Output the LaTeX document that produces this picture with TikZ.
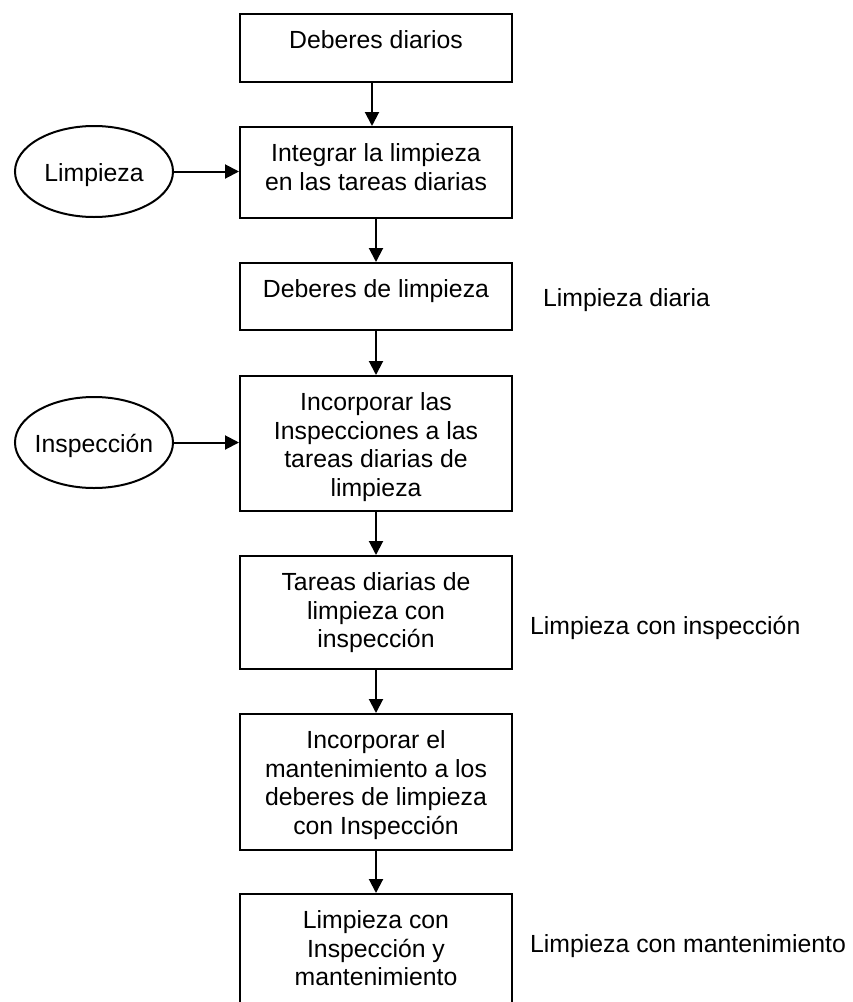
\documentclass[tikz,border=0pt]{standalone}
\usepackage{fontspec}
\setmainfont{Liberation Sans}
\usetikzlibrary{shapes.geometric,arrows.meta}

% Box text: fixed-height parbox with the first baseline a set distance below the top
\newcommand\boxtext[2]{\parbox[t][#1][t]{272pt}{\centering\rule{0pt}{34.5pt}#2}}
% Ellipse label that neither widens its ellipse nor sits off centre
\newcommand\ovaltext[1]{\makebox[0pt]{\raisebox{0pt}[20pt][0pt]{#1}}}

\tikzset{
  basefont/.style={font=\fontsize{24.8pt}{28.6pt}\selectfont},
  stepbox/.style={draw, line width=2pt, inner sep=0pt, anchor=north, basefont},
  oval/.style={draw, ellipse, line width=2pt, minimum width=158pt,
               minimum height=91pt, inner sep=0pt, basefont},
  flow/.style={line width=2pt, -{Triangle[length=14pt,width=14pt]}},
  sidenote/.style={anchor=base west, inner sep=0pt, basefont},
}

\begin{document}
\begin{tikzpicture}[x=1pt, y=-1pt]
  \useasboundingbox (0,0) rectangle (853,1002);
  \clip (0,0) rectangle (853,1002);

  % main column of steps
  \node[stepbox] (b1) at (376,13)  {\boxtext{68pt}{Deberes diarios}};
  \node[stepbox] (b2) at (376,126) {\boxtext{91pt}{Integrar la limpieza\\en las tareas diarias}};
  \node[stepbox] (b3) at (376,262) {\boxtext{67pt}{Deberes de limpieza}};
  \node[stepbox] (b4) at (376,375) {\boxtext{135pt}{Incorporar las\\Inspecciones a las\\tareas diarias de\\limpieza}};
  \node[stepbox] (b5) at (376,555) {\boxtext{113pt}{Tareas diarias de\\limpieza con\\inspección}};
  \node[stepbox] (b6) at (376,713) {\boxtext{136pt}{Incorporar el\\mantenimiento a los\\deberes de limpieza\\con Inspección}};
  \node[stepbox] (b7) at (376,893) {\boxtext{140pt}{Limpieza con\\Inspección y\\mantenimiento}};

  % inputs
  \node[oval] (l1) at (94,171.5) {\ovaltext{Limpieza}};
  \node[oval] (l2) at (94,442.5) {\ovaltext{Inspección}};

  % stage labels
  \node[sidenote] (n1) at (543,306) {Limpieza diaria};
  \node[sidenote] (n2) at (530,634) {Limpieza con inspección};
  \node[sidenote] (n3) at (530,952) {Limpieza con mantenimiento};

  % connectors
  \draw[flow] ([xshift=-4pt]b1.south) -- ([xshift=-4pt]b2.north);
  \draw[flow] (b2.south) -- (b3.north);
  \draw[flow] (b3.south) -- (b4.north);
  \draw[flow] (b4.south) -- (b5.north);
  \draw[flow] (b5.south) -- (b6.north);
  \draw[flow] (b6.south) -- (b7.north);
  \draw[flow] (l1.east) -- (l1.east -| b2.west);
  \draw[flow] (l2.east) -- (l2.east -| b4.west);
\end{tikzpicture}
\end{document}
